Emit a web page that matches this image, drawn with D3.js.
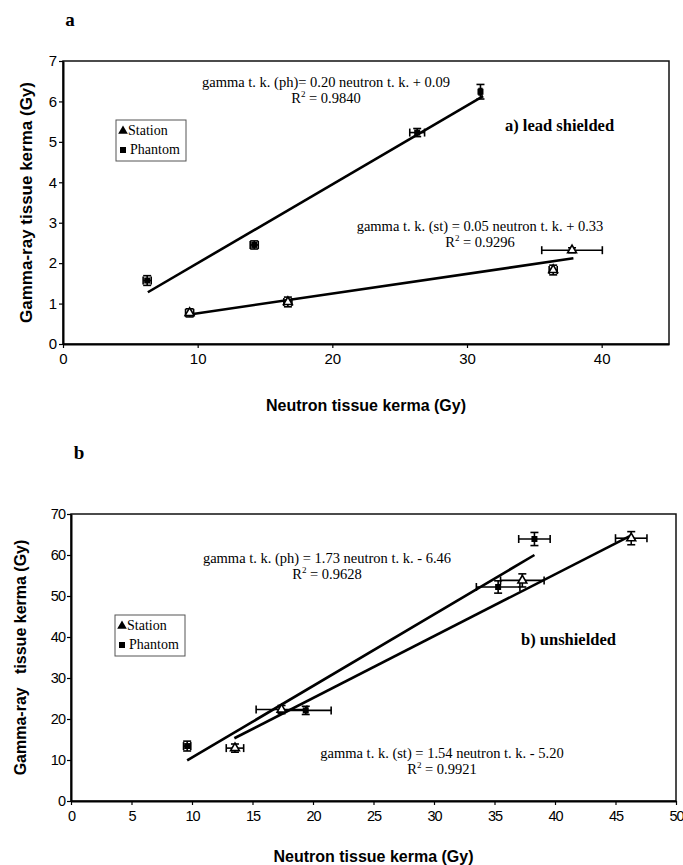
<!DOCTYPE html>
<html><head><meta charset="utf-8">
<script src="https://cdn.jsdelivr.net/npm/d3@7"></script>
<style>
body{margin:0;background:#fff;}
svg{display:block;}
text{fill:#000;}
</style></head>
<body>
<svg id="chart" width="683" height="865"></svg>
<script>
// ---------- Panel a: lead shielded ----------
const aXTicks = [0, 10, 20, 30, 40];
const aYTicks = [0, 1, 2, 3, 4, 5, 6, 7];
const aStation = [
  {x: 9.4, y: 0.77, xe: 0.3, ye: 0.1},
  {x: 16.7, y: 1.04, xe: 0.3, ye: 0.12},
  {x: 36.4, y: 1.83, xe: 0.3, ye: 0.12},
  {x: 37.8, y: 2.32, xe: 2.25, ye: 0.06}
];
const aPhantom = [
  {x: 6.25, y: 1.57, xe: 0.3, ye: 0.12},
  {x: 14.2, y: 2.45, xe: 0.3, ye: 0.1},
  {x: 26.3, y: 5.23, xe: 0.55, ye: 0.1},
  {x: 31.0, y: 6.24, xe: 0.1, ye: 0.18}
];
const aStationFit = [[9.4, 0.73], [37.9, 2.12]];
const aPhantomFit = [[6.3, 1.28], [31.2, 6.13]];
const aEqPh = ["gamma t. k. (ph)= 0.20 neutron t. k. + 0.09", "0.9840"];
const aEqSt = ["gamma t. k. (st) = 0.05 neutron t. k. + 0.33", "0.9296"];

// ---------- Panel b: unshielded ----------
const bXTicks = [0, 5, 10, 15, 20, 25, 30, 35, 40, 45, 50];
const bYTicks = [0, 10, 20, 30, 40, 50, 60, 70];
const bStation = [
  {x: 13.55, y: 12.9, xe: 0.72, ye: 1.0},
  {x: 17.4, y: 22.3, xe: 2.1, ye: 1.0},
  {x: 37.3, y: 53.8, xe: 1.8, ye: 1.6},
  {x: 46.3, y: 64.1, xe: 1.3, ye: 1.6}
];
const bPhantom = [
  {x: 9.6, y: 13.4, xe: 0.3, ye: 1.2},
  {x: 19.4, y: 22.1, xe: 2.1, ye: 1.0},
  {x: 35.3, y: 52.2, xe: 1.8, ye: 1.5},
  {x: 38.3, y: 63.9, xe: 1.3, ye: 1.6}
];
const bStationFit = [[13.5, 15.3], [46.3, 64.8]];
const bPhantomFit = [[9.6, 9.9], [38.3, 60.0]];
const bEqPh = ["gamma t. k. (ph) = 1.73 neutron t. k. - 6.46", "0.9628"];
const bEqSt = ["gamma t. k. (st) = 1.54 neutron t. k. - 5.20", "0.9921"];

const legendLabels = ["Station", "Phantom"];

const svg = d3.select("#chart");
const SERIF = "'Liberation Serif','Times New Roman',serif";
const SANS = "'Liberation Sans',Arial,sans-serif";

function drawPanel(cfg) {
  const g = svg.append("g");
  const x = d3.scaleLinear().domain(cfg.xDomain).range([cfg.left, cfg.right]);
  const y = d3.scaleLinear().domain(cfg.yDomain).range([cfg.bottom, cfg.top]);

  // box
  g.append("rect").attr("x", cfg.left).attr("y", cfg.top)
    .attr("width", cfg.right - cfg.left).attr("height", cfg.bottom - cfg.top)
    .attr("fill", "none").attr("stroke", "#111").attr("stroke-width", 1.5);

  // axes
  const xAxis = d3.axisBottom(x).tickValues(cfg.xTicks).tickSize(4).tickSizeOuter(0).tickFormat(d3.format("d"));
  const yAxis = d3.axisLeft(y).tickValues(cfg.yTicks).tickSize(4).tickSizeOuter(0).tickFormat(d3.format("d"));
  const gx = g.append("g").attr("transform", `translate(0,${cfg.bottom})`).call(xAxis);
  const gy = g.append("g").attr("transform", `translate(${cfg.left},0)`).call(yAxis);
  [gx, gy].forEach(ax => {
    ax.select(".domain").attr("stroke", "#000").attr("stroke-width", 2);
    ax.selectAll(".tick line").attr("stroke", "#000").attr("stroke-width", 1.2);
    ax.selectAll(".tick text").attr("font-family", SANS).attr("font-size", cfg.tickSize)
      .attr("letter-spacing", cfg.tickSpacing).attr("fill", "#000");
  });
  gx.selectAll(".tick text").attr("dy", "0.95em").attr("y", 6);
  gy.selectAll(".tick text").attr("x", -6);

  // fit lines
  const line = d3.line().x(d => x(d[0])).y(d => y(d[1]));
  [cfg.stFit, cfg.phFit].forEach(f => {
    g.append("path").attr("d", line(f)).attr("fill", "none")
      .attr("stroke", "#000").attr("stroke-width", 2.6);
  });

  // error bars + markers
  const cap = 4;
  function errBars(data) {
    data.forEach(d => {
      const cx = x(d.x), cy = y(d.y);
      const x0 = x(d.x - d.xe), x1 = x(d.x + d.xe);
      const y0 = y(d.y - d.ye), y1 = y(d.y + d.ye);
      const eb = g.append("g").attr("stroke", "#000").attr("stroke-width", 1.6);
      eb.append("line").attr("x1", x0).attr("x2", x1).attr("y1", cy).attr("y2", cy);
      eb.append("line").attr("x1", x0).attr("x2", x0).attr("y1", cy - cap).attr("y2", cy + cap);
      eb.append("line").attr("x1", x1).attr("x2", x1).attr("y1", cy - cap).attr("y2", cy + cap);
      eb.append("line").attr("x1", cx).attr("x2", cx).attr("y1", y0).attr("y2", y1);
      eb.append("line").attr("x1", cx - cap).attr("x2", cx + cap).attr("y1", y0).attr("y2", y0);
      eb.append("line").attr("x1", cx - cap).attr("x2", cx + cap).attr("y1", y1).attr("y2", y1);
    });
  }
  errBars(cfg.station);
  errBars(cfg.phantom);
  const tri = d3.symbol().type(d3.symbolTriangle).size(34);
  const sq = d3.symbol().type(d3.symbolSquare).size(36);
  g.selectAll(null).data(cfg.station).enter().append("path")
    .attr("d", tri).attr("transform", d => `translate(${x(d.x)},${y(d.y)})`)
    .attr("fill", "#fff").attr("stroke", "#000").attr("stroke-width", 1.6);
  g.selectAll(null).data(cfg.phantom).enter().append("path")
    .attr("d", sq).attr("transform", d => `translate(${x(d.x)},${y(d.y)})`)
    .attr("fill", "#000");

  // equations
  function eq(lines, cx, by) {
    g.append("text").attr("x", cx).attr("y", by).attr("text-anchor", "middle")
      .attr("font-family", SERIF).attr("font-size", 14.5).text(lines[0]);
    const t = g.append("text").attr("x", cx).attr("y", by + 16).attr("text-anchor", "middle")
      .attr("font-family", SERIF).attr("font-size", 14.5);
    t.append("tspan").text("R");
    t.append("tspan").attr("font-size", 9).attr("dy", -6).text("2");
    t.append("tspan").attr("dy", 6).text(" = " + lines[1]);
  }
  eq(cfg.eqPh, cfg.eqPhPos[0], cfg.eqPhPos[1]);
  eq(cfg.eqSt, cfg.eqStPos[0], cfg.eqStPos[1]);

  // panel note
  g.append("text").attr("x", cfg.notePos[0]).attr("y", cfg.notePos[1])
    .attr("font-family", SERIF).attr("font-weight", "bold").attr("font-size", 16.5).text(cfg.note);

  // panel letter
  g.append("text").attr("x", cfg.letterPos[0]).attr("y", cfg.letterPos[1]).attr("text-anchor", "middle")
    .attr("font-family", SERIF).attr("font-weight", "bold").attr("font-size", 19).text(cfg.letter);

  // legend
  const [lx, ly] = cfg.legendPos;
  g.append("rect").attr("x", lx).attr("y", ly).attr("width", 70).attr("height", 41)
    .attr("fill", "#fff").attr("stroke", "#555").attr("stroke-width", 1);
  g.append("path").attr("d", d3.symbol().type(d3.symbolTriangle).size(40))
    .attr("transform", `translate(${lx + 7},${ly + 11})`).attr("fill", "#000");
  g.append("path").attr("d", d3.symbol().type(d3.symbolSquare).size(36))
    .attr("transform", `translate(${lx + 7},${ly + 30})`).attr("fill", "#000");
  g.append("text").attr("x", lx + 12).attr("y", ly + 15).attr("font-family", SERIF)
    .attr("font-size", 14).text(legendLabels[0]);
  g.append("text").attr("x", lx + 14).attr("y", ly + 34).attr("font-family", SERIF)
    .attr("font-size", 14).text(legendLabels[1]);

  // axis titles
  g.append("text").attr("x", (cfg.left + cfg.right) / 2).attr("y", cfg.xTitleY).attr("text-anchor", "middle")
    .attr("font-family", SANS).attr("font-weight", "bold").attr("font-size", 16).text("Neutron tissue kerma (Gy)");
  g.append("text").attr("transform", `translate(${cfg.yTitleX},${(cfg.top + cfg.bottom) / 2}) rotate(-90)`)
    .attr("text-anchor", "middle").attr("dy", "0.35em").attr("font-family", SANS).attr("font-weight", "bold")
    .attr("font-size", cfg.yTitleSize).style("white-space", "pre").text(cfg.yTitle);
}

drawPanel({
  left: 63, right: 669, top: 61, bottom: 344,
  xDomain: [0, 45], yDomain: [0, 7], xTicks: aXTicks, yTicks: aYTicks,
  tickSize: 15, tickSpacing: 0,
  station: aStation, phantom: aPhantom, stFit: aStationFit, phFit: aPhantomFit,
  eqPh: aEqPh, eqPhPos: [326, 87], eqSt: aEqSt, eqStPos: [480, 231],
  note: "a) lead shielded", notePos: [505, 131],
  letter: "a", letterPos: [70, 26], legendPos: [116, 120],
  xTitleY: 411, yTitleX: 26, yTitleSize: 17, yTitle: "Gamma-ray tissue kerma (Gy)"
});

drawPanel({
  left: 71, right: 676, top: 514, bottom: 801,
  xDomain: [0, 50], yDomain: [0, 70], xTicks: bXTicks, yTicks: bYTicks,
  tickSize: 14.5, tickSpacing: -1,
  station: bStation, phantom: bPhantom, stFit: bStationFit, phFit: bPhantomFit,
  eqPh: bEqPh, eqPhPos: [327, 563], eqSt: bEqSt, eqStPos: [442, 758],
  note: "b) unshielded", notePos: [521, 645],
  letter: "b", letterPos: [79, 459], legendPos: [115, 615],
  xTitleY: 862, yTitleX: 20, yTitleSize: 16, yTitle: "Gamma-ray   tissue kerma (Gy)"
});
</script>
</body></html>
